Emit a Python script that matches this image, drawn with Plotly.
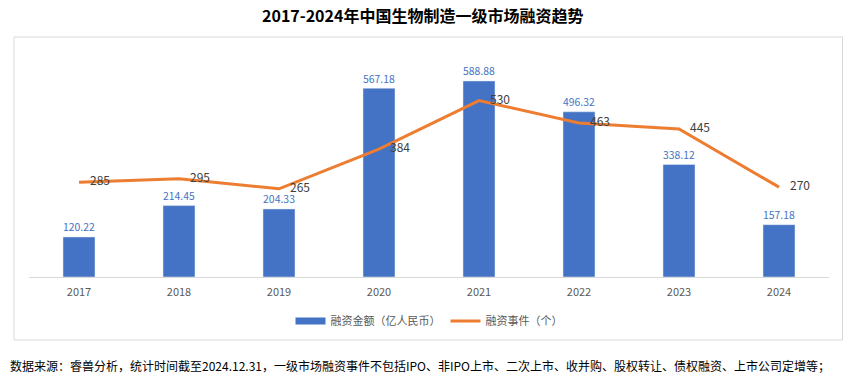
import plotly.graph_objects as go

years = ["2017", "2018", "2019", "2020", "2021", "2022", "2023", "2024"]
amount = [120.22, 214.45, 204.33, 567.18, 588.88, 496.32, 338.12, 157.18]
events = [285, 295, 265, 384, 530, 463, 445, 270]

title_text = "2017-2024年中国生物制造一级市场融资趋势"
note_text = "数据来源：睿兽分析，统计时间截至2024.12.31，一级市场融资事件不包括IPO、非IPO上市、二次上市、收并购、股权转让、债权融资、上市公司定增等；"
amount_name = "融资金额（亿人民币）"
events_name = "融资事件（个）"

FONT = "Noto Sans CJK SC, sans-serif"
W, H = 844, 380
L, R, T, B = 29, 15, 44, 103
PW, PH = W - L - R, H - T - B

def px(xp):
    return (xp - L) / PW

def py(yp):
    return (H - B - yp) / PH

fig = go.Figure()
fig.add_trace(go.Bar(
    x=years, y=amount, name=amount_name, showlegend=False,
    marker=dict(color="#4472C4"),
    text=[f"{v:.2f}" for v in amount], textposition="outside",
    textfont=dict(color="#4472C4", size=12, family=FONT),
    cliponaxis=False, width=0.32,
))
# legend entry for the bars, drawn as a wide band like the original
fig.add_trace(go.Scatter(
    x=[None], y=[None], mode="lines", name=amount_name,
    line=dict(color="#4472C4", width=7),
))
fig.add_trace(go.Scatter(
    x=years, y=events, name=events_name, yaxis="y2",
    mode="lines+markers+text", line=dict(color="#ED7D31", width=3),
    marker=dict(size=16, color="rgba(0,0,0,0)"),
    text=[str(v) for v in events], textposition="middle right",
    textfont=dict(color="#404040", size=12, family=FONT),
    cliponaxis=False,
))

fig.update_layout(
    width=W, height=H,
    margin=dict(l=L, r=R, t=T, b=B, autoexpand=False),
    paper_bgcolor="white", plot_bgcolor="white",
    font=dict(family=FONT, color="#595959", size=12),
    showlegend=True,
    legend=dict(orientation="h", x=0.5, xanchor="center", y=py(321), yanchor="middle",
                font=dict(size=11, color="#595959"), itemwidth=30, traceorder="normal"),
    xaxis=dict(showgrid=False, showline=True, linecolor="#D9D9D9", linewidth=1,
               ticks="", ticklabelstandoff=5, tickfont=dict(size=11, color="#595959")),
    yaxis=dict(range=[0, 700], visible=False),
    yaxis2=dict(range=[0, 700], visible=False, overlaying="y", side="right"),
    bargap=0.68,
)

fig.add_shape(type="rect", xref="paper", yref="paper",
              x0=px(14), x1=px(842.5), y0=py(340), y1=py(37),
              line=dict(color="#D9D9D9", width=1), fillcolor="rgba(0,0,0,0)", layer="below")

fig.add_annotation(text="<b>" + title_text + "</b>", xref="paper", yref="paper",
                   x=px(422), y=py(15), xanchor="center", yanchor="middle", showarrow=False,
                   font=dict(size=16, color="#000000", family=FONT))
fig.add_annotation(text=note_text, xref="paper", yref="paper",
                   x=px(8), y=py(365), xanchor="left", yanchor="middle", showarrow=False,
                   font=dict(size=12, color="#000000", family=FONT))

fig.write_html("out.html", config={"displayModeBar": False},
               post_script="document.body.style.margin='0';document.body.style.padding='0';")
